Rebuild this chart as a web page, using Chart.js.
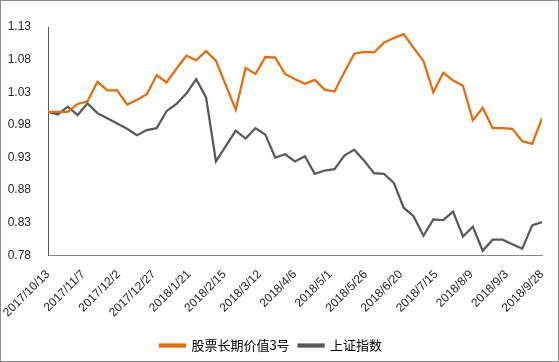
<!DOCTYPE html>
<html>
<head>
<meta charset="utf-8">
<script src="https://cdn.jsdelivr.net/npm/chart.js@4/dist/chart.umd.min.js"></script>
<style>
  html, body { margin: 0; padding: 0; background: #fff; }
  #wrap { width: 559px; height: 362px; position: relative; }
</style>
</head>
<body>
<div id="wrap"><canvas id="chart" width="559" height="362"></canvas></div>
<script>
// weekly dates (2018/2/16 spring festival week has no data)
const dates = [
  '2017/10/13', '2017/10/20', '2017/10/27', '2017/11/3', '2017/11/10', '2017/11/17', '2017/11/24',
  '2017/12/1', '2017/12/8', '2017/12/15', '2017/12/22', '2017/12/29', '2018/1/5', '2018/1/12',
  '2018/1/19', '2018/1/26', '2018/2/2', '2018/2/9', '2018/2/23', '2018/3/2', '2018/3/9',
  '2018/3/16', '2018/3/23', '2018/3/30', '2018/4/6', '2018/4/13', '2018/4/20', '2018/4/27',
  '2018/5/4', '2018/5/11', '2018/5/18', '2018/5/25', '2018/6/1', '2018/6/8', '2018/6/15',
  '2018/6/22', '2018/6/29', '2018/7/6', '2018/7/13', '2018/7/20', '2018/7/27', '2018/8/3',
  '2018/8/10', '2018/8/17', '2018/8/24', '2018/8/31', '2018/9/7', '2018/9/14', '2018/9/21',
  '2018/9/28'
];

// 股票长期价值3号
const fundValues = [
  1.000, 1.000, 1.000, 1.012, 1.016, 1.046, 1.033, 1.033, 1.011, 1.018, 1.027, 1.056, 1.045,
  1.066, 1.086, 1.079, 1.093, 1.078, 1.003, 1.067, 1.058, 1.084, 1.083, 1.058, 1.050,
  1.043, 1.049, 1.034, 1.031, 1.061, 1.089, 1.092, 1.091, 1.106, 1.113, 1.119, 1.098,
  1.078, 1.030, 1.060, 1.048, 1.040, 0.987, 1.006, 0.975, 0.975, 0.974, 0.955, 0.951,
  0.990
];

// 上证指数
const indexValues = [
  1.000, 0.996, 1.008, 0.995, 1.013, 0.998, 0.990, 0.982, 0.974, 0.964, 0.972, 0.975, 1.001,
  1.012, 1.028, 1.050, 1.022, 0.924, 0.971, 0.959, 0.975, 0.965, 0.930, 0.935, 0.924,
  0.932, 0.905, 0.910, 0.912, 0.933, 0.942, 0.925, 0.906, 0.905, 0.891, 0.853, 0.840,
  0.810, 0.835, 0.834, 0.847, 0.809, 0.824, 0.787, 0.804, 0.804, 0.797, 0.790, 0.826,
  0.831
];

const xTickLabels = [
  '2017/10/13', '2017/11/7', '2017/12/2', '2017/12/27', '2018/1/21', '2018/2/15', '2018/3/12',
  '2018/4/6', '2018/5/1', '2018/5/26', '2018/6/20', '2018/7/15', '2018/8/9', '2018/9/3', '2018/9/28'
];
const yTickValues = [0.78, 0.83, 0.88, 0.93, 0.98, 1.03, 1.08, 1.13];

function toDay(s) {
  const [y, m, d] = s.split('/').map(Number);
  return Date.UTC(y, m - 1, d) / 86400000;
}
const day0 = toDay(xTickLabels[0]);
const dayEnd = toDay(xTickLabels[xTickLabels.length - 1]);
const dayLabel = {};
xTickLabels.forEach(s => { dayLabel[toDay(s) - day0] = s; });

const fundPoints = dates.map((d, i) => ({ x: toDay(d) - day0, y: fundValues[i] }));
const indexPoints = dates.map((d, i) => ({ x: toDay(d) - day0, y: indexValues[i] }));

const frame = {
  id: 'frame',
  afterDraw(chart) {
    const c = chart.ctx;
    c.save();
    c.strokeStyle = '#8c8c8c';
    c.lineWidth = 1;
    c.strokeRect(0.5, 0.5, chart.width - 1, chart.height - 1);
    c.restore();
  }
};

const font = { family: "'Liberation Sans', Arial, 'Noto Sans CJK SC', sans-serif", size: 12 };

new Chart(document.getElementById('chart'), {
  type: 'line',
  data: {
    datasets: [
      {
        label: '股票长期价值3号',
        data: fundPoints,
        borderColor: '#E46C0A',
        backgroundColor: '#E46C0A',
        borderWidth: 2.25,
        pointRadius: 0,
        tension: 0,
        fill: false
      },
      {
        label: '上证指数',
        data: indexPoints,
        borderColor: '#595959',
        backgroundColor: '#595959',
        borderWidth: 2.25,
        pointRadius: 0,
        tension: 0,
        fill: false
      }
    ]
  },
  options: {
    responsive: false,
    animation: false,
    layout: { padding: { top: 27, right: 17, left: 0, bottom: 0 } },
    plugins: {
      tooltip: { enabled: false },
      legend: {
        position: 'bottom',
        labels: {
          boxWidth: 25,
          boxHeight: 2,
          padding: 9,
          color: '#000',
          font: { family: "'Noto Sans CJK SC', 'Liberation Sans', sans-serif", size: 13 }
        }
      }
    },
    scales: {
      x: {
        type: 'linear',
        min: 0,
        max: dayEnd - day0,
        grid: { display: false },
        border: { display: true, color: '#868686', width: 1 },
        afterBuildTicks(scale) {
          scale.ticks = xTickLabels.map(s => ({ value: toDay(s) - day0 }));
        },
        afterFit(scale) { scale.height += 6; },
        ticks: {
          autoSkip: false,
          maxRotation: 45,
          minRotation: 45,
          padding: 4,
          color: '#262626',
          font: font,
          callback: v => dayLabel[v] || ''
        }
      },
      y: {
        min: 0.78,
        max: 1.13,
        grid: { display: false },
        border: { display: true, color: '#595959', width: 1 },
        afterBuildTicks(scale) {
          scale.ticks = yTickValues.map(v => ({ value: v }));
        },
        afterFit(scale) { scale.width = 48; },
        ticks: {
          padding: 9,
          color: '#262626',
          font: font,
          callback: v => v.toFixed(2)
        }
      }
    }
  },
  plugins: [frame]
});
</script>
</body>
</html>
